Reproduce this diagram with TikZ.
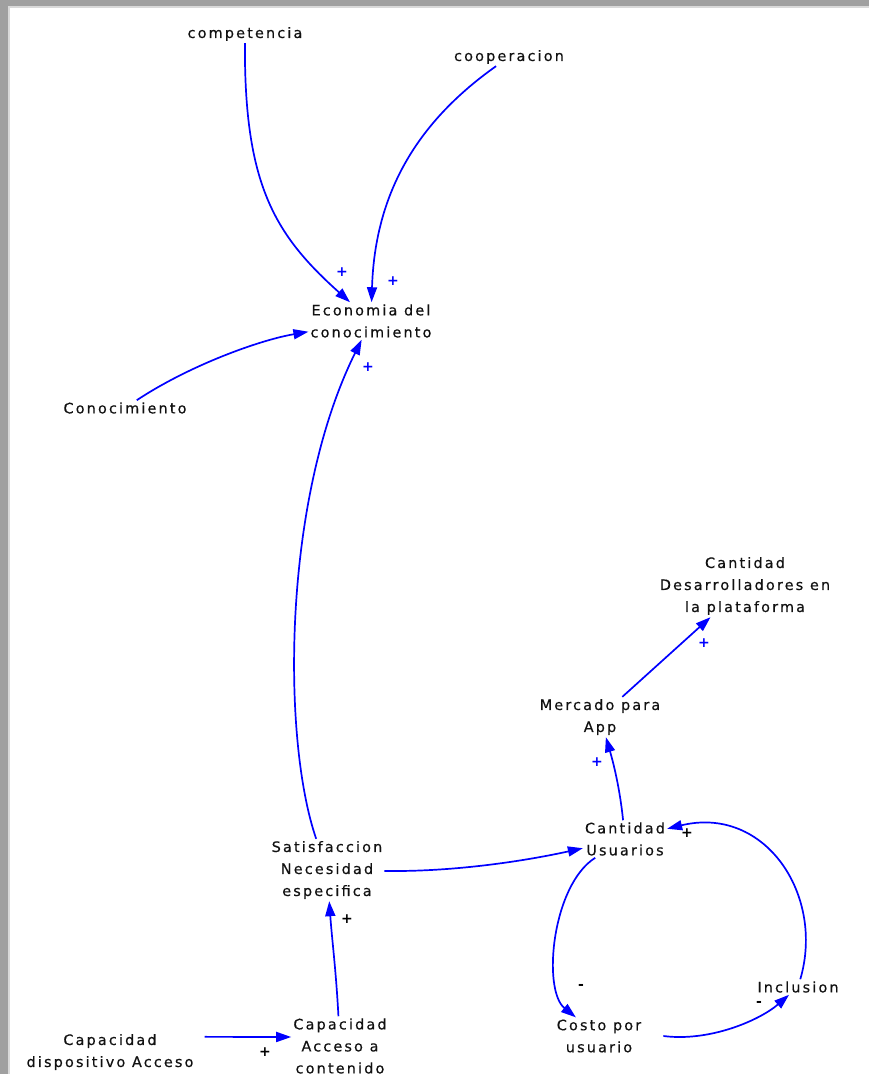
\documentclass[tikz,border=0pt]{standalone}
\usepackage{fontspec}
\setmainfont{DejaVu Sans}[LetterSpace=15, FakeBold=0.4]
\newfontfamily\signfont{DejaVu Sans}
\usetikzlibrary{arrows.meta}
\definecolor{txt}{HTML}{111111}
\definecolor{lnk}{RGB}{0,0,255}
\definecolor{frame}{HTML}{A0A0A0}

\begin{document}
\begin{tikzpicture}[x=1pt,y=-1pt,
  var/.style={align=center, inner sep=2pt, text=txt, font=\fontsize{14.4}{22}\selectfont},
  link/.style={draw=lnk, line width=1.7pt, -{Triangle[length=15pt,width=10pt]}},
  pol/.style={font=\signfont\fontsize{14}{14}\selectfont\bfseries, inner sep=0pt},
  polb/.style={pol, text=lnk},
  polk/.style={pol, text=black}]

% page and window frame
\useasboundingbox (0,0) rectangle (869,1074);
\fill[frame] (0,0) rectangle (869,1074);
\fill[gray!30] (8,6) rectangle (869,1074);
\fill[white] (10,8) rectangle (869,1074);

% variables
\node[var] (comp)  at (245,34)   {competencia};
\node[var] (coop)  at (509,57)   {cooperacion};
\node[var] (econ)  at (371,321)  {Economia del\\conocimiento};
\node[var] (conoc) at (125,408)  {Conocimiento};
\node[var] (desa)  at (745,586)  {Cantidad\\Desarrolladores en\\la plataforma};
\node[var] (merc)  at (600,717)  {Mercado para\\App};
\node[var] (usu)   at (625,839)  {Cantidad\\Usuarios};
\node[var] (sat)   at (327,870)  {Satisfaccion\\Necesidad\\especifica};
\node[var] (acc)   at (340,1046) {Capacidad\\Acceso a\\contenido};
\node[var] (disp)  at (110,1052) {Capacidad\\dispositivo Acceso};
\node[var] (costo) at (599,1036) {Costo por\\usuario};
\node[var] (incl)  at (798,987)  {Inclusion};

% causal links
\draw[link] (comp)  .. controls (244,185) and (275,235) .. (econ);
\draw[link] (coop)  .. controls (420,120) and (375,190) .. (econ);
\draw[link] (conoc) .. controls (190,365) and (260,340) .. (econ);
\draw[link] (sat)   .. controls (282,740) and (282,500) .. (econ);
\draw[link] (sat)   .. controls (450,872) and (520,862) .. (usu);
\draw[link] (acc)   .. controls (336,970) and (332,940) .. (sat);
\draw[link] ([shift={(9pt,-5pt)}]disp.north east) -- ([yshift=9pt]acc.west);
\draw[link] (usu)   .. controls (620,790) and (614,765) .. (merc);
\draw[link] (merc)  -- (desa);
\draw[link] (usu)   .. controls (552,885) and (542,990) .. (costo);
\draw[link] ([xshift=20pt]costo.east) .. controls (710,1042) and (760,1020) .. (incl);
\draw[link] (incl)  .. controls (825,895) and (765,805) .. (usu);

% link polarities
\node[polb] (p1)  at (342,272)  {+};
\node[polb] (p2)  at (393,281)  {+};
\node[polb] (p3)  at (368,367)  {+};
\node[polb] (p4)  at (704,643)  {+};
\node[polb] (p5)  at (597,762)  {+};
\node[polk] (p6)  at (347,919)  {+};
\node[polk] (p7)  at (265,1052) {+};
\node[polk] (p8)  at (687,833)  {+};
\node[polk] (p9)  at (581,987)  {-};
\node[polk] (p10) at (759,1004) {-};
\end{tikzpicture}
\end{document}
